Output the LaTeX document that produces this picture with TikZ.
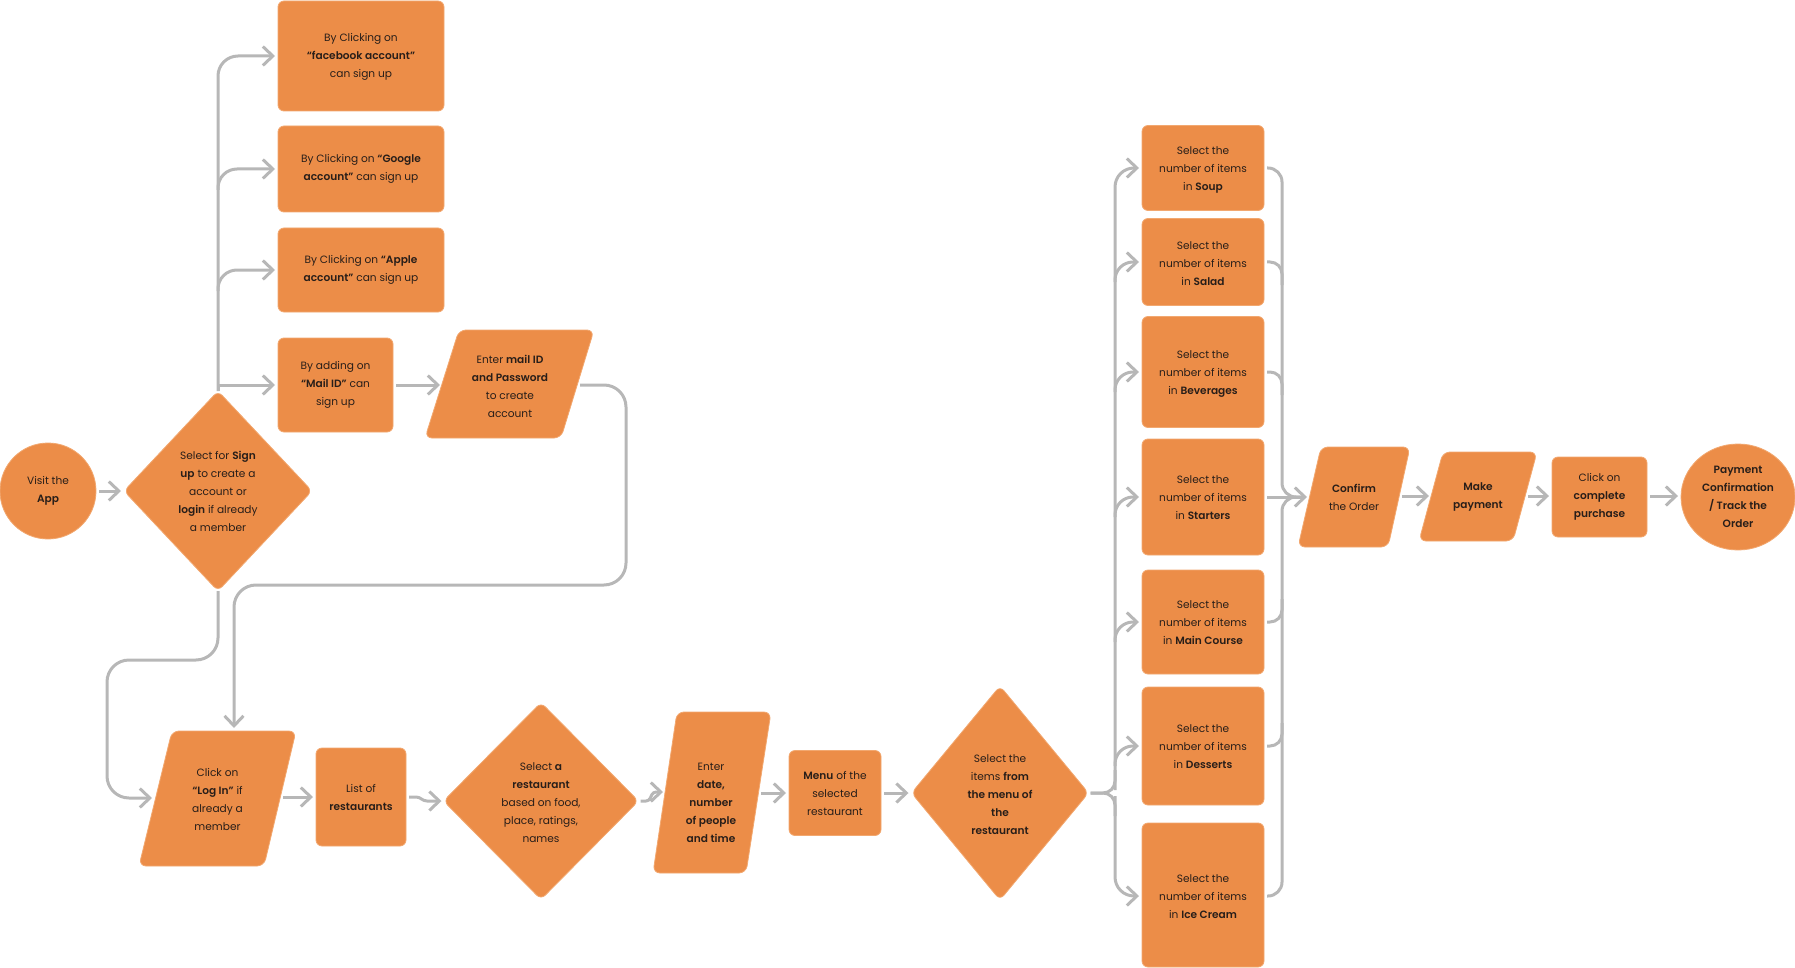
\documentclass[tikz,border=0pt]{standalone}
\usepackage{fontspec}
\setmainfont{Poppins}[BoldFont={Poppins SemiBold}]
\usetikzlibrary{arrows.meta,shapes.geometric}
\definecolor{org}{RGB}{236,141,72}
\definecolor{orgedge}{RGB}{242,168,112}
\definecolor{lnc}{RGB}{183,183,183}
\definecolor{tx}{RGB}{40,30,25}
\begin{document}
\begin{tikzpicture}[x=1pt,y=-1pt,
  shp/.style={fill=org, draw=orgedge, line width=0.8pt, inner sep=0pt, outer sep=0pt},
  box/.style={shp, rectangle, rounded corners=6pt},
  dia/.style={shp, diamond, rounded corners=6pt},
  para/.style={shp, rounded corners=7pt},
  txt/.style={align=center, text=tx, font=\fontsize{10.6}{18}\selectfont, inner sep=0pt},
  lnk/.style={draw=lnc, line width=3pt, line join=round},
  arr/.style={lnk, -{Straight Barb[length=10pt,width=19pt]}},
]
\useasboundingbox (0,0) rectangle (1795,968);

% ---------- shapes ----------
\node[shp, circle, minimum size=96pt] (visit) at (48,491) {};
\node[dia, minimum width=188pt, minimum height=200pt] (d1) at (218,491) {};
\node[box, minimum width=166pt, minimum height=110pt] (fb) at (361,56) {};
\node[box, minimum width=166pt, minimum height=86pt] (google) at (361,169) {};
\node[box, minimum width=166pt, minimum height=84pt] (apple) at (361,270) {};
\node[box, minimum width=115pt, minimum height=94pt] (mail) at (335.5,385) {};
\path[para] (425,438) -- (561,438) -- (594,330) -- (459,330) -- cycle;
\path[para] (139,866) -- (264,866) -- (296,731) -- (172,731) -- cycle;
\node[box, minimum width=90pt, minimum height=98pt] (list) at (361,797) {};
\node[dia, minimum width=195pt, minimum height=197pt] (d2) at (541,801) {};
\path[para] (653,873) -- (746,873) -- (771,712) -- (677,712) -- cycle;
\node[box, minimum width=92pt, minimum height=85pt] (menu) at (835,793) {};
\node[dia, minimum width=177pt, minimum height=214pt] (d3) at (1000,793) {};
\node[box, minimum width=122pt, minimum height=85pt] (soup) at (1203,168) {};
\node[box, minimum width=122pt, minimum height=87pt] (salad) at (1203,262) {};
\node[box, minimum width=122pt, minimum height=111pt] (bev) at (1203,372) {};
\node[box, minimum width=122pt, minimum height=116pt] (start) at (1203,497) {};
\node[box, minimum width=122pt, minimum height=104pt] (main) at (1203,622) {};
\node[box, minimum width=122pt, minimum height=118pt] (dess) at (1203,746) {};
\node[box, minimum width=122pt, minimum height=144pt] (ice) at (1203,895) {};
\path[para] (1298,547) -- (1388,547) -- (1410,447) -- (1321,447) -- cycle;
\path[para] (1419,541) -- (1513,541) -- (1537,452) -- (1443,452) -- cycle;
\node[box, minimum width=95pt, minimum height=80pt] (click) at (1599.5,497) {};
\node[shp, ellipse, minimum width=114pt, minimum height=106pt] (pay) at (1738,497) {};

% ---------- texts ----------
\node[txt] (visit-t) at (visit) {Visit the\\\textbf{App}};
\node[txt] (d1-t) at (d1) {Select for \textbf{Sign}\\\textbf{up} to create a\\account or\\\textbf{login} if already\\a member};
\node[txt] (fb-t) at (361,57) {By Clicking on\\\textbf{“facebook account”}\\can sign up};
\node[txt] (google-t) at (google) {By Clicking on \textbf{“Google}\\\textbf{account”} can sign up};
\node[txt] (apple-t) at (apple) {By Clicking on \textbf{“Apple}\\\textbf{account”} can sign up};
\node[txt] (mail-t) at (mail) {By adding on\\\textbf{“Mail ID”} can\\sign up};
\node[txt] (p1) at (510,386) {Enter \textbf{mail ID}\\\textbf{and Password}\\to create\\account};
\node[txt] (login) at (217.5,799.5) {Click on\\\textbf{“Log In”} if\\already a\\member};
\node[txt] (list-t) at (list) {List of\\\textbf{restaurants}};
\node[txt] (d2-t) at (541,803) {Select \textbf{a}\\\textbf{restaurant}\\based on food,\\place, ratings,\\names};
\node[txt] (date) at (711,803) {Enter\\\textbf{date,}\\\textbf{number}\\\textbf{of people}\\\textbf{and time}};
\node[txt] (menu-t) at (menu) {\textbf{Menu} of the\\selected\\restaurant};
\node[txt] (d3-t) at (1000,795) {Select the\\items \textbf{from}\\\textbf{the menu of}\\\textbf{the}\\\textbf{restaurant}};
\node[txt] (soup-t) at (1203,170) {Select the\\number of items\\in \textbf{Soup}};
\node[txt] (salad-t) at (1203,264) {Select the\\number of items\\in \textbf{Salad}};
\node[txt] (bev-t) at (1203,374) {Select the\\number of items\\in \textbf{Beverages}};
\node[txt] (start-t) at (1203,498) {Select the\\number of items\\in \textbf{Starters}};
\node[txt] (main-t) at (1203,623) {Select the\\number of items\\in \textbf{Main Course}};
\node[txt] (dess-t) at (1203,747) {Select the\\number of items\\in \textbf{Desserts}};
\node[txt] (ice-t) at (1203,897) {Select the\\number of items\\in \textbf{Ice Cream}};
\node[txt] (conf) at (1354,497) {\textbf{Confirm}\\the Order};
\node[txt] (make) at (1478,496.5) {\textbf{Make}\\\textbf{payment}};
\node[txt] (click-t) at (click) {Click on\\\textbf{complete}\\\textbf{purchase}};
\node[txt] (pay-t) at (pay) {\textbf{Payment}\\\textbf{Confirmation}\\\textbf{/ Track the}\\\textbf{Order}};

% ---------- edge points of the slanted shapes ----------
\coordinate (p1-w) at (440,385);
\coordinate (p1-e) at (580,385);
\coordinate (login-w) at (152,798);
\coordinate (login-e) at (283,797);
\coordinate (date-w) at (663,792);
\coordinate (date-e) at (761,793);
\coordinate (conf-w) at (1307,497);
\coordinate (conf-e) at (1402,496);
\coordinate (make-w) at (1429,496);
\coordinate (make-e) at (1528,496);
% junctions
\coordinate (jg) at (218,190);
\coordinate (ja) at (218,291);
\coordinate (lt) at (1115,793);
\coordinate (rt) at (1282,497);

% ---------- connectors ----------
\draw[arr] ([xshift=3pt]visit.east) -- ([xshift=-3pt]d1.west);
\draw[arr, rounded corners=20pt] (d1.north) -- (218,56) -- ([xshift=-3pt]fb.west);
\draw[arr, rounded corners=19pt] (jg) -- (218,169) -- ([xshift=-3pt]google.west);
\draw[arr, rounded corners=19pt] (ja) -- (218,270) -- ([xshift=-3pt]apple.west);
\draw[arr] (d1.north) |- ([xshift=-3pt]mail.west);
\draw[arr] ([xshift=3pt]mail.east) -- (p1-w);
\draw[arr, rounded corners=22pt] (p1-e) -- (626,385) -- (626,585) -- (234,585) -- (234,728);
\draw[arr, rounded corners=22pt] (d1.south) -- (218,660) -- (107,660) -- (107,798) -- (login-w);
\draw[arr] (login-e) -- ([xshift=-3pt]list.west);
\draw[arr, rounded corners=3pt] ([xshift=3pt]list.east) -- (419,797) -- (424,801) -- ([xshift=-2pt]d2.west);
\draw[arr, rounded corners=3pt] ([xshift=2pt]d2.east) -- (649,801) -- (653,792) -- (date-w);
\draw[arr] (date-e) -- ([xshift=-3pt]menu.west);
\draw[arr] ([xshift=3pt]menu.east) -- ([xshift=-3pt]d3.west);

% left fan to item boxes
\draw[lnk, rounded corners=12pt] ([xshift=2pt]d3.east) -- (lt) -- (1115,770);
\draw[lnk, rounded corners=12pt] ([xshift=2pt]d3.east) -- (lt) -- (1115,816);
\draw[arr, rounded corners=19pt] (1115,790) -- (1115,168) -- ([xshift=-3pt]soup.west);
\draw[arr, rounded corners=19pt] (1115,796) -- (1115,896) -- ([xshift=-3pt]ice.west |- 0,896);
\draw[arr, rounded corners=18pt] (1115,282) -- (1115,262) -- ([xshift=-3pt]salad.west);
\draw[arr, rounded corners=18pt] (1115,392) -- (1115,372) -- ([xshift=-3pt]bev.west);
\draw[arr, rounded corners=18pt] (1115,517) -- (1115,497) -- ([xshift=-3pt]start.west);
\draw[arr, rounded corners=18pt] (1115,642) -- (1115,622) -- ([xshift=-3pt]main.west);
\draw[arr, rounded corners=18pt] (1115,766) -- (1115,746) -- ([xshift=-3pt]dess.west);

% right merge into confirm
\draw[lnk, rounded corners=14pt] ([xshift=3pt]soup.east) -- (1282,168) -- (rt) -- (1305,497);
\draw[lnk, rounded corners=14pt] ([xshift=3pt]ice.east |- 0,896) -- (1282,896) -- (rt) -- (1305,497);
\draw[lnk, rounded corners=12pt] ([xshift=3pt]salad.east) -- (1282,262) -- (1282,285);
\draw[lnk, rounded corners=12pt] ([xshift=3pt]bev.east) -- (1282,372) -- (1282,395);
\draw[lnk, rounded corners=12pt] ([xshift=3pt]main.east) -- (1282,622) -- (1282,599);
\draw[lnk, rounded corners=12pt] ([xshift=3pt]dess.east) -- (1282,746) -- (1282,723);
\draw[arr] ([xshift=3pt]start.east) -- (conf-w);

\draw[arr] (conf-e) -- (make-w);
\draw[arr] (make-e) -- ([xshift=-3pt]click.west |- 0,496);
\draw[arr] ([xshift=3pt]click.east |- 0,496) -- ([xshift=-3pt]pay.west |- 0,496);
\end{tikzpicture}
\end{document}
